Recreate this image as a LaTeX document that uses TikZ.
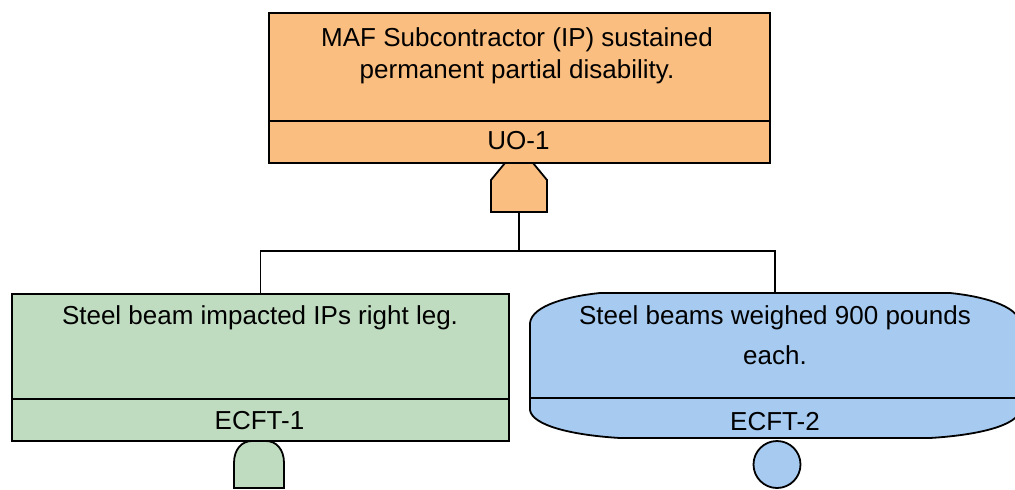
\documentclass[tikz,border=0pt]{standalone}
\usepackage{fontspec}
\setmainfont{Liberation Sans}
\definecolor{orangefill}{RGB}{250,190,128}
\definecolor{greenfill}{RGB}{192,220,192}
\definecolor{bluefill}{RGB}{166,202,240}
\begin{document}
\begin{tikzpicture}[x=1pt,y=-1pt,line width=1.8pt,
  lbl/.style={font=\fontsize{26}{32}\selectfont, align=center, inner sep=0pt},
  evbox/.style={draw, inner sep=0pt, anchor=north west}]
\clip (0,0) rectangle (1015,490);
\fill[white] (0,0) rectangle (1015,490);

% connector tree
\coordinate (andout) at (519,212);
\coordinate (split) at (519,251);
\coordinate (rtop) at (775,293);

% top event
\node[evbox, fill=orangefill, minimum width=501pt, minimum height=150pt] (top) at (268,12) {};
\draw (268,121) coordinate (topdivL) -- (769,121) coordinate (topdivR);
\node[lbl] (toptxt) at (517,56) {MAF Subcontractor (IP) sustained\\permanent partial disability.};
\node[lbl] (topid) at (518.5,141) {UO-1};

% gate below the top event
\path[draw, fill=orangefill] (491,212) -- (491,180) -- (505,163) -- (533,163) -- (547,180) -- (547,212) -- cycle;

% left event
\node[evbox, fill=greenfill, minimum width=497pt, minimum height=147pt] (lbox) at (11,293) {};
\draw (11,399) -- (508,399);
\node[lbl] (ltxt) at (260,318) {Steel beam impacted IPs right leg.};
\node[lbl] (lid) at (259.5,421) {ECFT-1};

% rounded-top symbol below the left event
\path[draw, fill=greenfill] (234,488) -- (234,463) .. controls (234,449) and (242,441) .. (252,441)
  -- (266,441) .. controls (276,441) and (284,449) .. (284,463) -- (284,488) -- cycle;

% right event (bulged sides)
\path[draw, fill=bluefill] (600,293) -- (950,293)
  .. controls (980,296) and (1018,305) .. (1020,323) -- (1020,410)
  .. controls (1018,425) and (980,435) .. (930,438) -- (620,438)
  .. controls (570,435) and (532,425) .. (530,410) -- (530,323)
  .. controls (532,305) and (570,296) .. (600,293) -- cycle;
\draw (530,398) -- (1020,398);
\node[lbl, font=\fontsize{26}{40}\selectfont] (rtxt) at (775,335) {Steel beams weighed 900 pounds\\each.};
\node[lbl] (rid) at (775,422) {ECFT-2};

% circle below the right event
\node[draw, fill=bluefill, circle, minimum size=47pt, inner sep=0pt] (rcirc) at (777,464.5) {};

% connectors
\draw (andout) -- (split);
\draw (lbox.north) |- (split) -| (rtop);
\end{tikzpicture}
\end{document}
